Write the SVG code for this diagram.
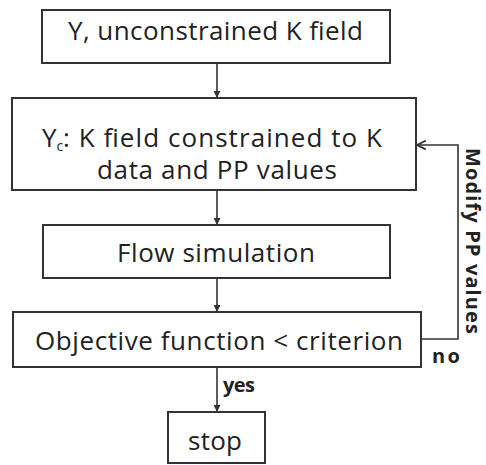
<svg xmlns="http://www.w3.org/2000/svg" width="486" height="465" viewBox="0 0 486 465">
  <style>
    .box { fill: #ffffff; stroke: #333333; stroke-width: 2; }
    .lbl { font-family: "Open Sans", "Liberation Sans", sans-serif; font-size: 26px; fill: #222222; }
    .mid { text-anchor: middle; }
    .tag { font-family: "Open Sans", "Liberation Sans", sans-serif; font-size: 20px; font-weight: bold; fill: #222222; text-anchor: middle; }
    .edge { fill: none; stroke: #333333; stroke-width: 1.6; }
  </style>
  <defs>
    <marker id="tri" viewBox="0 0 10 10" refX="10" refY="5" markerWidth="7" markerHeight="7" markerUnits="userSpaceOnUse" orient="auto">
      <path d="M0,0 L10,5 L0,10 Z" fill="#333333"/>
    </marker>
    <marker id="chev" viewBox="0 0 10 10" refX="9" refY="5" markerWidth="11" markerHeight="11" markerUnits="userSpaceOnUse" orient="auto">
      <path d="M1,1 L9,5 L1,9" fill="none" stroke="#333333" stroke-width="1.6"/>
    </marker>
  </defs>

  <rect width="486" height="465" fill="#ffffff"/>

  <g id="connectors">
    <line class="edge" x1="217" y1="63" x2="217" y2="98" marker-end="url(#tri)"/>
    <line class="edge" x1="217" y1="190" x2="217" y2="225" marker-end="url(#tri)"/>
    <line class="edge" x1="217" y1="278" x2="217" y2="312" marker-end="url(#tri)"/>
    <line class="edge" x1="217" y1="367" x2="217" y2="412" marker-end="url(#tri)"/>
    <polyline class="edge" points="421,339 458,339 458,145 417,145" marker-end="url(#chev)"/>
    <text class="tag" x="239" y="392" textLength="32">yes</text>
    <text class="tag" x="446" y="363" textLength="28">no</text>
    <text class="tag" transform="translate(466,241) rotate(90)" font-size="18.5" textLength="186">Modify PP values</text>
  </g>

  <g id="n1">
    <rect class="box" x="42" y="10" width="348" height="53"/>
    <text class="lbl mid" x="215.5" y="40" textLength="295">Y, unconstrained K field</text>
  </g>

  <g id="n2">
    <rect class="box" x="12" y="98" width="404" height="92"/>
    <text class="lbl" x="42" y="147">Y<tspan font-size="14" dy="4">c</tspan><tspan x="63" y="147" textLength="319">: K field constrained to K</tspan><tspan x="217" y="179" text-anchor="middle" textLength="240">data and PP values</tspan></text>
  </g>

  <g id="n3">
    <rect class="box" x="43" y="225" width="347" height="53"/>
    <text class="lbl mid" x="216" y="262" textLength="198">Flow simulation</text>
  </g>

  <g id="n4">
    <rect class="box" x="13" y="312" width="408" height="55"/>
    <text class="lbl mid" x="219" y="350" textLength="368">Objective function &lt; criterion</text>
  </g>

  <g id="n5">
    <rect class="box" x="168" y="412" width="97" height="51"/>
    <text class="lbl mid" x="215" y="450" textLength="54">stop</text>
  </g>
</svg>
